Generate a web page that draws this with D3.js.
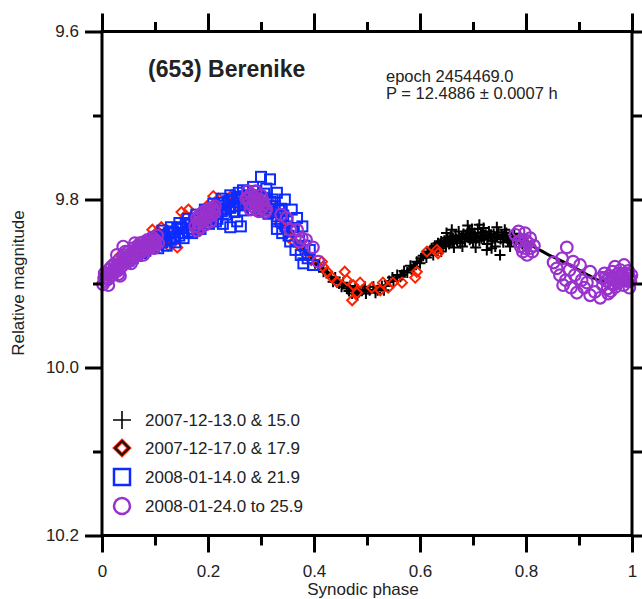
<!DOCTYPE html>
<html>
<head>
<meta charset="utf-8">
<script src="https://cdn.jsdelivr.net/npm/d3@7/dist/d3.min.js"></script>
<style>
  html, body { margin: 0; padding: 0; background: #fff; }
  svg { display: block; }
  text { font-family: "Liberation Sans", Arial, Helvetica, sans-serif; fill: #222; }
</style>
</head>
<body>
<svg id="chart" width="642" height="599"></svg>
<script>
// ---- data: [synodic phase, relative magnitude] ----
const seriesLabels = ["2007-12-13.0 & 15.0", "2007-12-17.0 & 17.9", "2008-01-14.0 & 21.9", "2008-01-24.0 to 25.9"];

// Fourier fit of the composite lightcurve (read at fixed phases)
const fitCurve = [
  [0.00,9.896],[0.02,9.884],[0.04,9.872],[0.06,9.863],[0.08,9.855],[0.10,9.848],[0.12,9.843],[0.14,9.838],
  [0.16,9.832],[0.18,9.826],[0.20,9.819],[0.22,9.812],[0.24,9.806],[0.26,9.802],[0.28,9.800],[0.30,9.801],
  [0.32,9.810],[0.34,9.826],[0.36,9.843],[0.38,9.860],[0.40,9.873],[0.42,9.885],[0.44,9.895],[0.46,9.902],
  [0.48,9.907],[0.50,9.909],[0.52,9.906],[0.54,9.900],[0.56,9.892],[0.58,9.883],[0.60,9.872],[0.62,9.862],
  [0.64,9.855],[0.66,9.850],[0.68,9.847],[0.70,9.845],[0.72,9.845],[0.74,9.845],[0.76,9.846],[0.78,9.848],
  [0.80,9.852],[0.82,9.858],[0.84,9.865],[0.86,9.871],[0.88,9.877],[0.90,9.884],[0.92,9.891],[0.94,9.897],
  [0.96,9.899],[0.98,9.898],[1.00,9.896]
];

const dec13 = [
  [0.402,9.876],[0.410,9.878],[0.418,9.886],[0.425,9.887],[0.432,9.893],[0.440,9.893],[0.447,9.900],[0.455,9.899],
  [0.462,9.906],[0.468,9.903],[0.472,9.912],[0.478,9.906],[0.485,9.910],[0.492,9.907],[0.498,9.912],[0.505,9.908],
  [0.512,9.904],[0.520,9.908],[0.528,9.903],[0.535,9.903],[0.542,9.897],[0.550,9.897],[0.557,9.890],[0.563,9.892],
  [0.570,9.885],[0.576,9.887],[0.582,9.879],[0.588,9.880],[0.594,9.874],[0.600,9.876],[0.606,9.867],[0.612,9.869],
  [0.618,9.862],[0.622,9.858],[0.625,9.866],[0.628,9.855],[0.631,9.861],[0.634,9.852],[0.637,9.858],[0.640,9.850],
  [0.643,9.856],[0.646,9.849],[0.649,9.855],[0.652,9.846],[0.655,9.853],[0.658,9.844],[0.661,9.851],[0.664,9.857],
  [0.667,9.843],[0.670,9.849],[0.673,9.838],[0.676,9.852],[0.679,9.845],[0.682,9.841],[0.685,9.850],[0.688,9.844],
  [0.691,9.837],[0.694,9.848],[0.697,9.842],[0.698,9.835],[0.700,9.851],[0.703,9.840],[0.706,9.846],[0.709,9.835],
  [0.712,9.849],[0.715,9.843],[0.718,9.839],[0.721,9.847],[0.724,9.842],[0.727,9.853],[0.730,9.838],[0.733,9.845],
  [0.736,9.849],[0.739,9.841],[0.742,9.856],[0.745,9.844],[0.748,9.839],[0.751,9.866],[0.754,9.842],[0.757,9.851],
  [0.760,9.845],[0.763,9.840],[0.766,9.849],[0.769,9.844],[0.772,9.850],[0.775,9.846],[0.778,9.841],[0.781,9.849],
  [0.784,9.846],[0.787,9.852],[0.790,9.848],[0.793,9.853],[0.796,9.850],[0.800,9.855],[0.015,9.886],
  [0.626,9.860],[0.632,9.855],[0.638,9.853],[0.644,9.851],[0.650,9.850],[0.656,9.848],[0.662,9.846],[0.668,9.847],
  [0.674,9.845],[0.680,9.846],[0.686,9.843],[0.692,9.845],[0.698,9.846],[0.704,9.844],[0.710,9.845],[0.716,9.846],
  [0.722,9.843],[0.728,9.845],[0.734,9.842],[0.740,9.846],[0.746,9.845],[0.752,9.847],[0.758,9.844],[0.764,9.846],
  [0.770,9.847],[0.776,9.845],[0.782,9.846],[0.788,9.849],[0.794,9.848],
  [0.436,9.898],[0.452,9.904],[0.466,9.909],[0.482,9.914],[0.496,9.904],[0.516,9.911],[0.532,9.908],[0.548,9.893],
  [0.566,9.890],[0.584,9.883],[0.602,9.870],[0.614,9.864],
  [0.660,9.836],[0.690,9.831],[0.720,9.834],[0.735,9.858],[0.705,9.857],[0.680,9.856],[0.760,9.836],[0.650,9.840],
  [0.770,9.856],[0.712,9.830],[0.745,9.833],[0.640,9.862],[0.726,9.860],[0.694,9.838]
];

const dec17 = [
  [0.020,9.876],[0.035,9.866],[0.050,9.872],[0.068,9.852],[0.082,9.850],[0.095,9.836],[0.105,9.838],[0.112,9.833],
  [0.125,9.855],[0.135,9.851],[0.142,9.857],[0.150,9.815],[0.158,9.819],[0.163,9.812],[0.175,9.830],[0.185,9.835],
  [0.198,9.808],[0.210,9.796],[0.220,9.799],[0.232,9.812],[0.245,9.795],[0.258,9.806],[0.268,9.798],
  [0.282,9.791],[0.295,9.810],[0.305,9.797],[0.315,9.815],[0.322,9.806],[0.335,9.829],[0.345,9.834],[0.352,9.845],
  [0.362,9.850],[0.372,9.855],[0.385,9.866],[0.395,9.872],[0.415,9.874],[0.417,9.880],
  [0.425,9.886],[0.434,9.893],[0.443,9.898],[0.458,9.886],[0.462,9.896],[0.474,9.902],[0.487,9.899],[0.472,9.920],
  [0.481,9.911],[0.509,9.905],[0.525,9.908],[0.530,9.899],[0.540,9.905],[0.549,9.899],[0.566,9.899],[0.591,9.893],
  [0.594,9.886],[0.613,9.862],[0.632,9.860],[0.634,9.864]
];

const jan14 = [
  [0.050,9.873],[0.054,9.866],[0.058,9.870],[0.062,9.861],[0.066,9.867],[0.070,9.858],[0.074,9.864],[0.078,9.855],
  [0.082,9.861],[0.086,9.852],[0.090,9.858],[0.094,9.849],[0.098,9.856],[0.102,9.846],[0.106,9.853],[0.110,9.844],
  [0.114,9.851],[0.118,9.842],[0.122,9.849],[0.126,9.840],[0.130,9.847],[0.134,9.838],[0.138,9.845],[0.142,9.835],
  [0.146,9.843],[0.150,9.833],[0.154,9.840],[0.158,9.830],[0.162,9.838],[0.166,9.828],[0.170,9.835],[0.174,9.825],
  [0.178,9.832],[0.182,9.822],[0.186,9.829],[0.190,9.819],[0.194,9.826],[0.198,9.816],[0.202,9.823],[0.206,9.813],
  [0.210,9.820],[0.214,9.810],[0.218,9.817],[0.222,9.807],[0.226,9.814],[0.230,9.804],[0.234,9.812],[0.238,9.802],
  [0.242,9.810],[0.246,9.800],[0.250,9.808],[0.254,9.798],[0.258,9.807],[0.262,9.797],[0.266,9.806],[0.270,9.796],
  [0.274,9.805],[0.278,9.795],[0.282,9.804],[0.286,9.795],[0.290,9.805],[0.294,9.796],[0.298,9.806],[0.302,9.798],
  [0.306,9.808],[0.310,9.800],[0.314,9.811],[0.318,9.803],[0.322,9.815],[0.326,9.808],[0.330,9.820],[0.334,9.813],
  [0.338,9.826],[0.342,9.819],[0.346,9.832],[0.350,9.826],
  [0.106,9.858],[0.114,9.837],[0.122,9.855],[0.130,9.833],[0.138,9.851],[0.146,9.828],[0.154,9.846],[0.162,9.823],
  [0.170,9.840],[0.178,9.818],[0.186,9.835],[0.194,9.812],[0.202,9.829],[0.210,9.805],[0.218,9.823],[0.226,9.799],
  [0.234,9.818],[0.242,9.795],[0.250,9.815],[0.258,9.792],[0.266,9.813],[0.274,9.790],[0.282,9.812],[0.290,9.790],
  [0.298,9.813],[0.306,9.793],[0.314,9.817],[0.322,9.800],[0.330,9.826],[0.338,9.811],
  [0.300,9.773],[0.317,9.776],[0.266,9.789],[0.285,9.785],[0.310,9.787],[0.330,9.792],[0.345,9.800],[0.242,9.833],
  [0.228,9.829],[0.255,9.826],[0.262,9.832],[0.215,9.826],[0.358,9.812],[0.368,9.822],[0.362,9.838],[0.372,9.845],
  [0.378,9.832],[0.355,9.850],[0.382,9.855],[0.365,9.860],[0.375,9.866],[0.388,9.870],[0.392,9.860],[0.380,9.876],
  [0.398,9.878],[0.352,9.843],[0.340,9.840],[0.330,9.835]
];

const jan24 = [
  [0.002,9.901],[0.005,9.888],[0.008,9.892],[0.011,9.895],[0.014,9.883],[0.017,9.887],[0.020,9.890],[0.023,9.877],
  [0.026,9.881],[0.029,9.885],[0.032,9.872],[0.035,9.876],[0.038,9.879],[0.041,9.866],[0.044,9.871],[0.047,9.875],
  [0.050,9.862],[0.053,9.867],[0.056,9.871],[0.059,9.858],[0.062,9.863],[0.065,9.867],[0.068,9.855],[0.071,9.860],
  [0.074,9.863],[0.077,9.851],[0.080,9.856],[0.083,9.860],[0.086,9.848],[0.089,9.853],[0.092,9.857],[0.095,9.845],
  [0.098,9.850],[0.101,9.853],[0.104,9.843],[0.006,9.897],[0.018,9.880],[0.031,9.889],[0.044,9.862],[0.058,9.868],
  [0.072,9.852],[0.086,9.856],[0.096,9.851],[0.040,9.874],[0.025,9.886],[0.040,9.856],[0.028,9.866],
  [0.004,9.894],[0.010,9.888],[0.016,9.891],[0.022,9.884],[0.028,9.880],[0.034,9.881],[0.040,9.870],[0.046,9.869],
  [0.052,9.872],[0.057,9.863],[0.064,9.862],[0.070,9.864],[0.076,9.856],[0.082,9.855],[0.088,9.858],[0.094,9.850],
  [0.100,9.848],[0.106,9.852],[0.012,9.902],[0.034,9.891],[0.055,9.876],[0.078,9.866],[0.098,9.858],[0.062,9.852],
  [0.176,9.832],[0.179,9.822],[0.182,9.828],[0.185,9.818],[0.188,9.826],[0.191,9.815],[0.194,9.823],[0.197,9.813],
  [0.200,9.821],[0.203,9.811],[0.206,9.819],[0.209,9.810],[0.212,9.816],[0.185,9.834],[0.195,9.830],[0.205,9.826],
  [0.180,9.837],[0.213,9.808],[0.183,9.823],[0.192,9.820],[0.201,9.816],[0.210,9.813],
  [0.272,9.799],[0.275,9.790],[0.278,9.804],[0.281,9.794],[0.284,9.808],[0.287,9.797],[0.290,9.811],[0.293,9.800],
  [0.296,9.814],[0.299,9.803],[0.302,9.810],[0.305,9.806],[0.308,9.815],[0.280,9.812],[0.290,9.790],[0.300,9.795],
  [0.310,9.812],[0.276,9.798],[0.285,9.802],[0.294,9.806],[0.303,9.801],
  [0.338,9.818],[0.348,9.822],[0.355,9.836],[0.368,9.836],[0.377,9.846],[0.372,9.850],[0.398,9.857],[0.408,9.874],
  [0.385,9.848],
  [0.780,9.842],[0.786,9.838],[0.792,9.848],[0.798,9.840],[0.804,9.852],[0.798,9.858],[0.790,9.856],[0.808,9.846],
  [0.812,9.862],[0.802,9.866],[0.794,9.862],[0.815,9.855],[0.786,9.850],[0.800,9.849],[0.808,9.858],
  [0.877,9.857],[0.868,9.870],[0.889,9.874],[0.902,9.878],[0.864,9.890],[0.892,9.890],[0.921,9.886],[0.915,9.899],
  [0.896,9.911],[0.930,9.910],[0.940,9.917],[0.921,9.914],[0.852,9.875],[0.858,9.882],[0.882,9.884],[0.875,9.896],
  [0.905,9.896],[0.910,9.905],[0.885,9.905],[0.870,9.902],
  [0.942,9.893],[0.945,9.902],[0.948,9.888],[0.951,9.897],[0.954,9.906],[0.957,9.891],[0.960,9.900],[0.963,9.886],
  [0.966,9.895],[0.969,9.904],[0.972,9.889],[0.975,9.898],[0.978,9.884],[0.981,9.893],[0.984,9.902],[0.987,9.888],
  [0.990,9.897],[0.993,9.885],[0.996,9.894],[0.999,9.890],[0.955,9.912],[0.968,9.880],[0.985,9.878],[0.995,9.905],
  [0.960,9.909],[0.950,9.893],[0.962,9.895],[0.974,9.893],[0.986,9.895],[0.997,9.897],[0.980,9.889],[0.966,9.901]
];

const xMajorTicks = [0, 0.2, 0.4, 0.6, 0.8, 1];
const xMinorTicks = [0.1, 0.3, 0.5, 0.7, 0.9];
const yMajorTicks = [9.6, 9.8, 10.0, 10.2];
const yMinorTicks = [9.7, 9.9, 10.1];

// ---- layout ----
const svg = d3.select("#chart");
const plotLeft = 102, plotRight = 632, plotTop = 31.5, plotBottom = 535.5;
const x = d3.scaleLinear().domain([0, 1]).range([plotLeft, plotRight]);
const y = d3.scaleLinear().domain([9.6, 10.2]).range([plotTop, plotBottom]);

const BLACK = "#000", RED = "#ff2200", BLUE = "#0d2bff", PURPLE = "#9932cc";

// fit curve (under the points)
svg.append("path")
  .datum(fitCurve)
  .attr("fill", "none")
  .attr("stroke", BLACK)
  .attr("stroke-width", 3)
  .attr("d", d3.line().x(d => x(d[0])).y(d => y(d[1])).curve(d3.curveCatmullRom));

// black plus markers
svg.append("g").selectAll("path").data(dec13).join("path")
  .attr("transform", d => `translate(${x(d[0])},${y(d[1])})`)
  .attr("d", "M-5.5,0H5.5M0,-5.5V5.5")
  .attr("stroke", BLACK).attr("stroke-width", 2).attr("fill", "none");

// red open diamonds
svg.append("g").selectAll("path").data(dec17).join("path")
  .attr("transform", d => `translate(${x(d[0])},${y(d[1])})`)
  .attr("d", "M0,-5L5,0L0,5L-5,0Z")
  .attr("stroke", RED).attr("stroke-width", 2).attr("fill", "none");

// blue open squares
svg.append("g").selectAll("rect").data(jan14).join("rect")
  .attr("x", d => x(d[0]) - 5).attr("y", d => y(d[1]) - 5)
  .attr("width", 10).attr("height", 10)
  .attr("stroke", BLUE).attr("stroke-width", 2).attr("fill", "none");

// purple open circles
svg.append("g").selectAll("circle").data(jan24).join("circle")
  .attr("cx", d => x(d[0])).attr("cy", d => y(d[1])).attr("r", 5.8)
  .attr("stroke", PURPLE).attr("stroke-width", 2.2).attr("fill", "none");

// ---- axes ----
const fontSize = "17px";
function styleAxis(g) {
  g.select(".domain").remove();
  g.selectAll(".tick line").attr("stroke", BLACK).attr("stroke-width", 3);
  g.selectAll(".tick text").attr("font-size", fontSize).attr("fill", "#222");
}
const fmtY = d3.format(".1f");
const fmtX = d => d3.format("")(d);

svg.append("g").attr("transform", `translate(${plotLeft},0)`)
  .call(d3.axisLeft(y).tickValues(yMajorTicks).tickFormat(fmtY).tickSize(17).tickPadding(6)).call(styleAxis);
svg.append("g").attr("transform", `translate(${plotLeft},0)`)
  .call(d3.axisLeft(y).tickValues(yMinorTicks).tickFormat("").tickSize(9)).call(styleAxis);
svg.append("g").attr("transform", `translate(${plotRight},0)`)
  .call(d3.axisRight(y).tickValues(yMajorTicks).tickFormat("").tickSize(17)).call(styleAxis);
svg.append("g").attr("transform", `translate(${plotRight},0)`)
  .call(d3.axisRight(y).tickValues(yMinorTicks).tickFormat("").tickSize(10)).call(styleAxis);

svg.append("g").attr("transform", `translate(0,${plotBottom})`)
  .call(d3.axisBottom(x).tickValues(xMajorTicks).tickFormat(fmtX).tickSize(17).tickPadding(12)).call(styleAxis);
svg.append("g").attr("transform", `translate(0,${plotBottom})`)
  .call(d3.axisBottom(x).tickValues(xMinorTicks).tickFormat("").tickSize(10)).call(styleAxis);
svg.append("g").attr("transform", `translate(0,${plotTop})`)
  .call(d3.axisTop(x).tickValues(xMajorTicks).tickFormat("").tickSize(18)).call(styleAxis);
svg.append("g").attr("transform", `translate(0,${plotTop})`)
  .call(d3.axisTop(x).tickValues(xMinorTicks).tickFormat("").tickSize(9.5)).call(styleAxis);

// frame
svg.append("rect")
  .attr("x", plotLeft).attr("y", plotTop).attr("width", plotRight - plotLeft).attr("height", plotBottom - plotTop)
  .attr("fill", "none").attr("stroke", BLACK).attr("stroke-width", 3);

// axis titles
svg.append("text").attr("x", 363).attr("y", 595).attr("text-anchor", "middle")
  .attr("font-size", fontSize).text("Synodic phase");
svg.append("text").attr("transform", "translate(24,283) rotate(-90)").attr("text-anchor", "middle")
  .attr("font-size", fontSize).text("Relative magnitude");

// titles inside the plot
svg.append("text").attr("x", 148).attr("y", 77).attr("font-size", "23px").attr("font-weight", "bold")
  .attr("fill", "#111").text("(653) Berenike");
const info = svg.append("text").attr("x", 386).attr("y", 82).attr("font-size", "16.5px");
info.append("tspan").attr("x", 386).text("epoch 2454469.0");
info.append("tspan").attr("x", 386).attr("dy", 17).text("P = 12.4886 ± 0.0007 h");

// ---- legend ----
const legend = svg.append("g");
const lx = 122, ly = [420, 448, 477, 506];
legend.append("path").attr("d", `M${lx-9},${ly[0]}H${lx+9}M${lx},${ly[0]-9}V${ly[0]+9}`)
  .attr("stroke", BLACK).attr("stroke-width", 1.6);
legend.append("path").attr("d", `M${lx},${ly[1]-7}L${lx+7},${ly[1]}L${lx},${ly[1]+7}L${lx-7},${ly[1]}Z`)
  .attr("stroke", RED).attr("stroke-width", 4).attr("fill", "none");
legend.append("path").attr("d", `M${lx},${ly[1]-7}L${lx+7},${ly[1]}L${lx},${ly[1]+7}L${lx-7},${ly[1]}Z`)
  .attr("stroke", "#111").attr("stroke-width", 1.8).attr("fill", "none");
legend.append("rect").attr("x", lx - 8).attr("y", ly[2] - 8).attr("width", 16).attr("height", 16)
  .attr("stroke", BLUE).attr("stroke-width", 2.5).attr("fill", "none");
legend.append("circle").attr("cx", lx).attr("cy", ly[3]).attr("r", 8)
  .attr("stroke", PURPLE).attr("stroke-width", 2.5).attr("fill", "none");
legend.selectAll("text.leg").data(seriesLabels).join("text").attr("class", "leg")
  .attr("x", 145).attr("y", (d, i) => ly[i] + 6)
  .attr("font-size", fontSize).text(d => d);
</script>
</body>
</html>
